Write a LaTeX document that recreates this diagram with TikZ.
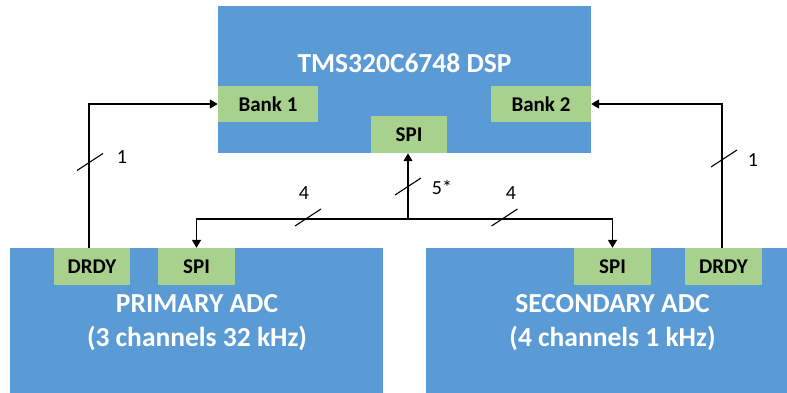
\documentclass[tikz,border=0pt]{standalone}
\usepackage{fontspec}
\setmainfont{Carlito}
\usetikzlibrary{arrows.meta,calc}
\definecolor{bluebox}{HTML}{5B9BD5}
\definecolor{greenbox}{HTML}{A9D18E}
\begin{document}
\begin{tikzpicture}[x=1pt,y=-1pt,
  bigbox/.style={fill=bluebox,draw=none,inner sep=0pt},
  port/.style={fill=greenbox,draw=none,inner sep=0pt,minimum width=76pt,minimum height=37pt,
     font=\fontsize{21}{25}\selectfont\bfseries,text=black},
  bigtext/.style={text=white,font=\fontsize{27.5}{34}\selectfont\bfseries,align=center,inner sep=0pt},
  conn/.style={line width=1.6pt,draw=black},
  arr/.style={conn,-{Triangle[length=8pt,width=9pt]}},
  slashline/.style={line width=1.1pt,draw=black},
  lbl/.style={font=\fontsize{20}{24}\selectfont,inner sep=0pt}]
\useasboundingbox (0,0) rectangle (787,393);
% DSP
\node[bigbox,minimum width=373pt,minimum height=147pt] (dsp) at (404.5,79.5) {};
\node[bigtext] (dsptitle) at (404.5,63) {TMS320C6748 DSP};
\node[port,minimum width=100pt,minimum height=36pt] (b1) at (268,104) {Bank 1};
\node[port,minimum width=100pt,minimum height=36pt] (b2) at (541,104) {Bank 2};
\node[port] (spit) at (409,134.5) {SPI};
% Primary ADC
\node[bigbox,minimum width=373pt,minimum height=145pt] (pri) at (196.5,320.5) {};
\node[port] (dl) at (92,266.5) {DRDY};
\node[port,minimum width=77pt] (spil) at (196.5,266.5) {SPI};
\node[bigtext] (pritext) at (197,322.5) {PRIMARY ADC\\(3 channels 32 kHz)};
% Secondary ADC
\node[bigbox,minimum width=361pt,minimum height=145pt] (sec) at (606.5,320.5) {};
\node[port,minimum width=77pt] (spir) at (612.5,266.5) {SPI};
\node[port,minimum width=77pt] (dr) at (723.5,266.5) {DRDY};
\node[bigtext] (sectext) at (612.5,322.5) {SECONDARY ADC\\(4 channels 1 kHz)};
% connectors
\coordinate (j) at (408,219);
\draw[arr] ([xshift=-3pt]dl.north) |- (b1.west);
\draw[arr] ([xshift=-1.5pt]dr.north) |- (b2.east);
\draw[arr] (j) -- (j |- spit.south);
\draw[arr] (j) -| (spil.north);
\draw[arr] (j) -| (spir.north);
% slashes
\coordinate (s1) at (90,162);
\coordinate (s2) at (724,158.5);
\coordinate (s3) at (308,217.5);
\coordinate (s4) at (504.5,217.5);
\coordinate (s5) at (408,186.5);
\foreach \s in {s1,s2,s3,s4,s5}{
  \draw[slashline] ($(\s)+(-13,8.5)$) -- ($(\s)+(13,-8.5)$);
}
\node[lbl] (l1) at (122,157) {1};
\node[lbl] (l2) at (753,160) {1};
\node[lbl] (l3) at (304,193) {4};
\node[lbl] (l4) at (511,193) {4};
\node[lbl] (l5) at (442,187) {5*};
\end{tikzpicture}
\end{document}
